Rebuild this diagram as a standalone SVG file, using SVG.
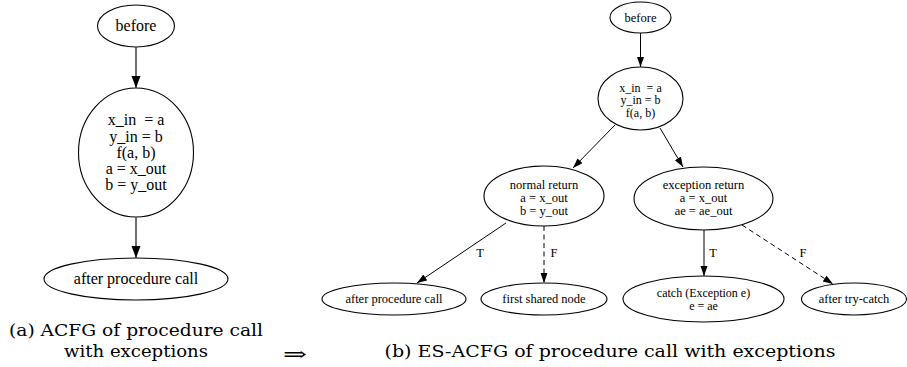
<svg xmlns="http://www.w3.org/2000/svg" width="907" height="367" viewBox="0 0 907 367">
  <style>
    .node { fill: none; stroke: #000; stroke-width: 1.1; }
    .lbl { font-family: "Liberation Serif", "Times New Roman", serif; fill: #000; text-anchor: middle; white-space: pre; }
    .big { font-size: 16px; }
    .small { font-size: 12.5px; }
    .tight { font-size: 12px; }
    .edge { fill: none; stroke: #000; }
    .edgeL { stroke-width: 1.4; stroke: #333; }
    .edgeR { stroke-width: 1; }
    .dash { stroke-dasharray: 5 3.5; }
    .cap { font-family: "DejaVu Serif", "Liberation Serif", serif; font-size: 17px; fill: #000; text-anchor: middle; }
  </style>
  <defs>
    <marker id="headL" markerUnits="userSpaceOnUse" markerWidth="12" markerHeight="10" refX="12" refY="4.5" orient="auto">
      <path d="M0,0 L12,4.5 L0,9 z" fill="#000"/>
    </marker>
    <marker id="headR" markerUnits="userSpaceOnUse" markerWidth="10" markerHeight="8" refX="10" refY="3.5" orient="auto">
      <path d="M0,0 L10,3.5 L0,7 z" fill="#000"/>
    </marker>
  </defs>

  <!-- (a) ACFG -->
  <g id="a-before">
    <ellipse class="node" cx="136" cy="26" rx="38.5" ry="21"/>
    <text class="lbl big" x="136" y="31">before</text>
  </g>
  <g id="a-call">
    <ellipse class="node" cx="136" cy="152.5" rx="57.5" ry="64.5"/>
    <text class="lbl big" x="136" y="125" xml:space="preserve">x_in  = a</text>
    <text class="lbl big" x="136" y="142">y_in = b</text>
    <text class="lbl big" x="136" y="158">f(a, b)</text>
    <text class="lbl big" x="136" y="174">a = x_out</text>
    <text class="lbl big" x="136" y="190">b = y_out</text>
  </g>
  <g id="a-after">
    <ellipse class="node" cx="136" cy="279" rx="92" ry="21"/>
    <text class="lbl big" x="136" y="284">after procedure call</text>
  </g>

  <g id="a-edges">
    <line class="edge edgeL" x1="136" y1="47" x2="136" y2="88" marker-end="url(#headL)"/>
    <line class="edge edgeL" x1="136" y1="217" x2="136" y2="258" marker-end="url(#headL)"/>
  </g>

  <text class="cap" x="136" y="336" textLength="254" lengthAdjust="spacingAndGlyphs">(a) ACFG of procedure call</text>
  <text class="cap" x="136" y="357" textLength="144" lengthAdjust="spacingAndGlyphs">with exceptions</text>
  <text class="cap" x="295" y="361" style="font-size:20px" textLength="24" lengthAdjust="spacingAndGlyphs">⇒</text>

  <!-- (b) ES-ACFG -->
  <g id="b-before">
    <ellipse class="node" cx="640.5" cy="17.5" rx="30.5" ry="15.5"/>
    <text class="lbl small" x="640.5" y="22">before</text>
  </g>
  <g id="b-call">
    <ellipse class="node" cx="640.5" cy="98.5" rx="42.5" ry="31.5"/>
    <text class="lbl tight" x="640.5" y="91.5" xml:space="preserve">x_in  = a</text>
    <text class="lbl tight" x="640.5" y="104">y_in = b</text>
    <text class="lbl tight" x="640.5" y="116.5">f(a, b)</text>
  </g>
  <g id="b-normal">
    <ellipse class="node" cx="544" cy="196" rx="60" ry="30"/>
    <text class="lbl small" x="544" y="189">normal return</text>
    <text class="lbl small" x="544" y="202">a = x_out</text>
    <text class="lbl small" x="544" y="215">b = y_out</text>
  </g>
  <g id="b-exception">
    <ellipse class="node" cx="703.5" cy="198.5" rx="69.5" ry="31.5"/>
    <text class="lbl small" x="703.5" y="189">exception return</text>
    <text class="lbl small" x="703.5" y="202">a = x_out</text>
    <text class="lbl small" x="703.5" y="215">ae = ae_out</text>
  </g>
  <g id="b-after">
    <ellipse class="node" cx="394" cy="299" rx="72" ry="16"/>
    <text class="lbl small" x="394" y="303">after procedure call</text>
  </g>
  <g id="b-shared">
    <ellipse class="node" cx="544" cy="299" rx="63" ry="16"/>
    <text class="lbl small" x="544" y="303">first shared node</text>
  </g>
  <g id="b-catch">
    <ellipse class="node" cx="703.5" cy="299" rx="80.5" ry="23"/>
    <text class="lbl tight" x="703.5" y="297">catch (Exception e)</text>
    <text class="lbl tight" x="703.5" y="309.5">e = ae</text>
  </g>
  <g id="b-aftertry">
    <ellipse class="node" cx="854" cy="299" rx="52.5" ry="16"/>
    <text class="lbl small" x="854" y="303">after try-catch</text>
  </g>

  <g id="b-edges">
    <line class="edge edgeR" x1="640.5" y1="33" x2="640.5" y2="67" marker-end="url(#headR)"/>
    <line class="edge edgeR" x1="615" y1="125" x2="573" y2="168" marker-end="url(#headR)"/>
    <line class="edge edgeR" x1="660" y1="128" x2="683" y2="167" marker-end="url(#headR)"/>
    <line class="edge edgeR" x1="506" y1="223" x2="417" y2="283" marker-end="url(#headR)"/>
    <line class="edge edgeR dash" x1="544" y1="226" x2="544" y2="283" marker-end="url(#headR)"/>
    <line class="edge edgeR" x1="704" y1="230" x2="704" y2="276" marker-end="url(#headR)"/>
    <line class="edge edgeR dash" x1="742" y1="225" x2="833" y2="284" marker-end="url(#headR)"/>
    <text class="lbl small" x="480" y="257">T</text>
    <text class="lbl small" x="554" y="257">F</text>
    <text class="lbl small" x="713" y="257">T</text>
    <text class="lbl small" x="803" y="257">F</text>
  </g>

  <text class="cap" x="610" y="357" textLength="451" lengthAdjust="spacingAndGlyphs">(b) ES-ACFG of procedure call with exceptions</text>
</svg>
